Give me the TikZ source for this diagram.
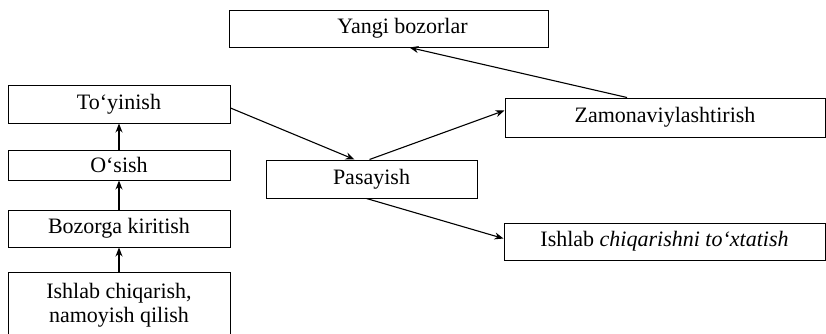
\documentclass[tikz,border=0pt]{standalone}
\usepackage{fontspec}
\setmainfont{Liberation Serif}
\usetikzlibrary{arrows.meta}
\begin{document}
\begin{tikzpicture}[x=1pt,y=-1pt,
  box/.style={draw, line width=1pt, inner sep=0pt, font=\fontsize{22}{24}\selectfont, align=center},
  arr/.style={line width=1.1pt, -{Stealth[length=9pt,width=7pt]}}]
\useasboundingbox (0,0) rectangle (826,333);
\node[box, minimum width=319pt, minimum height=37pt] (yb) at (388.5,28.5) {\hspace*{28pt}Yangi bozorlar};
\node[box, minimum width=320pt, minimum height=39pt] (zm) at (665,117.5) {Zamonaviylashtirish};
\node[box, minimum width=222pt, minimum height=38pt] (ty) at (119,104) {To‘yinish};
\node[box, minimum width=222pt, minimum height=30pt] (os) at (119,165) {O‘sish};
\node[box, minimum width=222pt, minimum height=37pt] (bk) at (119,228.5) {Bozorga kiritish};
\node[box, minimum width=222pt, minimum height=66pt] (ic) at (119,305) {Ishlab chiqarish,\\namoyish qilish};
\node[box, minimum width=211pt, minimum height=38pt] (ps) at (371.5,179) {Pasayish};
\node[box, minimum width=321pt, minimum height=37pt] (ix) at (664.5,241.5) {Ishlab \textit{chiqarishni to‘xtatish}};
\draw[arr] (ic.north) -- (bk.south);
\draw[arr] (bk.north) -- (os.south);
\draw[arr] (os.north) -- (ty.south);
\draw[arr] ([yshift=-4pt]ty.east) -- ([xshift=-17pt]ps.north);
\draw[arr] ([xshift=-2pt]ps.north) -- ([yshift=7pt]zm.west);
\draw[arr] ([xshift=-38pt]zm.north) -- ([xshift=21pt]yb.south);
\draw[arr] ([xshift=-5pt]ps.south) -- ([yshift=3pt]ix.west);
\end{tikzpicture}
\end{document}
